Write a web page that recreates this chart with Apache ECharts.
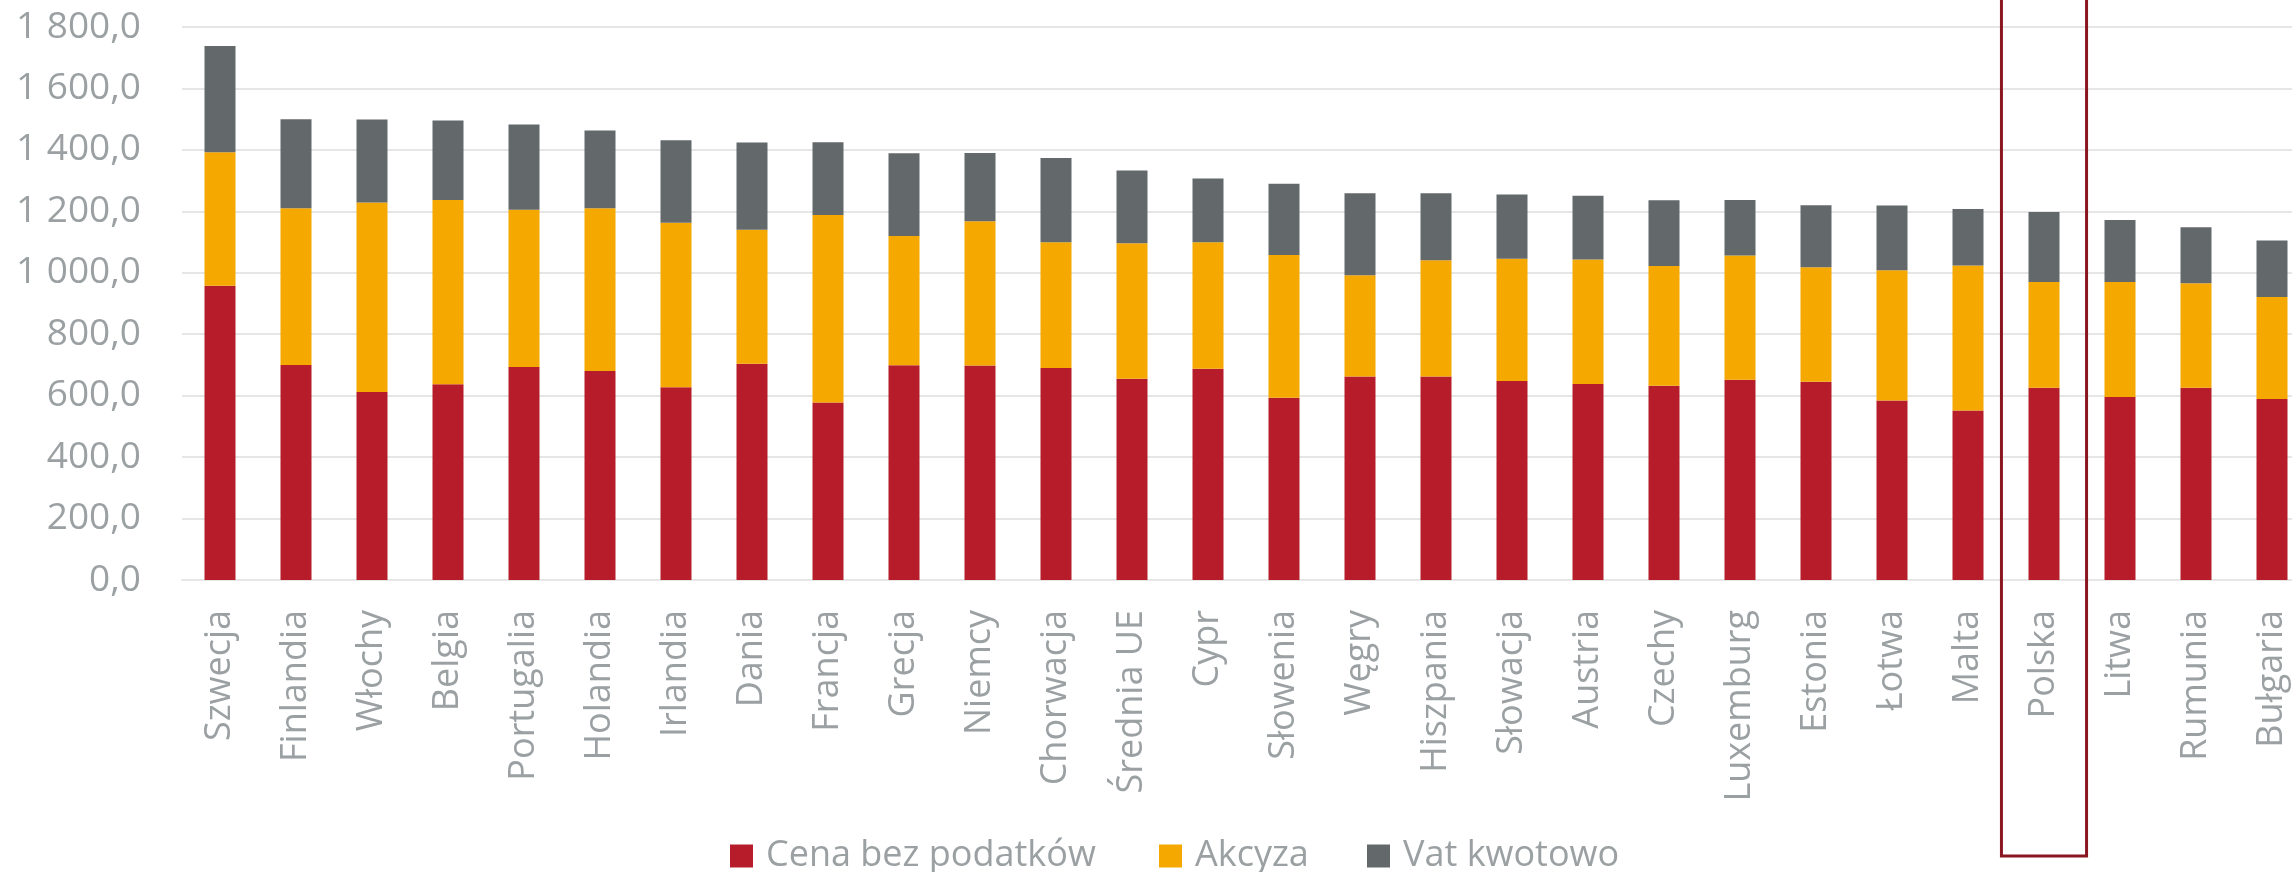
<!DOCTYPE html>
<html lang="pl">
<head>
<meta charset="utf-8">
<title>Cena benzyny w UE – struktura</title>
<script src="https://cdn.jsdelivr.net/npm/echarts@6/dist/echarts.min.js"></script>
<style>
  html, body { margin: 0; padding: 0; background: #ffffff; }
  #chart { width: 2292px; height: 872px; }
</style>
</head>
<body>
<div id="chart"></div>
<script>
// Countries, ordered by total price
const categories = [
  'Szwecja', 'Finlandia', 'Włochy', 'Belgia', 'Portugalia', 'Holandia', 'Irlandia',
  'Dania', 'Francja', 'Grecja', 'Niemcy', 'Chorwacja', 'Średnia UE', 'Cypr',
  'Słowenia', 'Węgry', 'Hiszpania', 'Słowacja', 'Austria', 'Czechy', 'Luxemburg',
  'Estonia', 'Łotwa', 'Malta', 'Polska', 'Litwa', 'Rumunia', 'Bułgaria'
];

// Price components
const cenaBezPodatkow = [958, 700, 612, 637, 693, 680, 627, 704, 578, 699, 698, 690, 655, 688,
                         593, 662, 662, 648, 638, 632, 652, 645, 584, 552, 626, 596, 626, 589];
const akcyza          = [434, 510, 617, 600, 512, 530, 536, 436, 610, 421, 470, 409, 441, 411,
                         465, 330, 379, 398, 405, 390, 404, 373, 424, 472, 344, 374, 340, 332];
const vatKwotowo      = [346, 290, 270, 259, 278, 253, 268, 284, 237, 269, 222, 275, 237, 208,
                         232, 267, 218, 209, 208, 214, 181, 202, 211, 184, 228, 202, 182, 184];

const seriesNames = ['Cena bez podatków', 'Akcyza', 'Vat kwotowo'];

// Value axis ticks
const yMin = 0;
const yMax = 1800;
const yStep = 200;

// Country framed on the chart
const highlighted = 'Polska';

const FONT = '"Open Sans", "Noto Sans", "DejaVu Sans", sans-serif';
const TEXT_GREY = '#9ba0a3';
const GRID_GREY = '#e6e6e6';
const COLORS = ['#b71c2b', '#f5a800', '#63686a'];

function formatPl(v) {
  const parts = v.toFixed(1).split('.');
  const intPart = parts[0].replace(/\B(?=(\d{3})+(?!\d))/g, ' ');
  return intPart + ',' + parts[1];
}

const chart = echarts.init(document.getElementById('chart'), null, { renderer: 'canvas' });

const data = [cenaBezPodatkow, akcyza, vatKwotowo];

chart.setOption({
  animation: false,
  backgroundColor: '#ffffff',
  textStyle: { fontFamily: FONT },
  // the plot runs past the right edge of the canvas; the last bar is cut off
  grid: {
    left: 182, top: 27, width: 2128, height: 553,
    containLabel: false, outerBoundsMode: 'none'
  },
  legend: {
    left: 725,
    top: 833,
    itemWidth: 23,
    itemHeight: 23,
    itemGap: 20,
    icon: 'rect',
    textStyle: {
      fontFamily: FONT, fontSize: 36, color: TEXT_GREY,
      lineHeight: 36, padding: [0, 0, 0, 8]
    },
    data: [
      { name: seriesNames[0], textStyle: { width: 373 } },
      { name: seriesNames[1], textStyle: { width: 152 } },
      { name: seriesNames[2], textStyle: { width: 240 } }
    ]
  },
  xAxis: {
    type: 'category',
    data: categories,
    axisTick: { show: false },
    axisLine: { show: true, lineStyle: { color: GRID_GREY, width: 2 } },
    axisLabel: {
      interval: 0,
      rotate: 90,
      margin: 30,
      fontFamily: FONT,
      fontSize: 36,
      color: TEXT_GREY
    }
  },
  yAxis: {
    type: 'value',
    min: yMin,
    max: yMax,
    interval: yStep,
    axisLine: { show: false },
    axisTick: { show: false },
    splitLine: { lineStyle: { color: GRID_GREY, width: 2 } },
    axisLabel: {
      margin: 41,
      fontFamily: FONT,
      fontSize: 37,
      color: TEXT_GREY,
      formatter: formatPl
    }
  },
  series: seriesNames.map((name, i) => ({
    name: name,
    type: 'bar',
    stack: 'total',
    barWidth: 31,
    itemStyle: { color: COLORS[i] },
    data: data[i]
  }))
});

// Frame around the highlighted country, placed from the category axis scale
(function drawFrame() {
  const idx = categories.indexOf(highlighted);
  const cx = chart.convertToPixel({ xAxisIndex: 0 }, highlighted);
  const prev = chart.convertToPixel({ xAxisIndex: 0 }, categories[idx - 1]);
  const band = cx - prev;
  const halfW = band * 0.56;
  const bottom = chart.getHeight() - 16;
  chart.setOption({
    graphic: [{
      type: 'rect',
      z: 100,
      shape: { x: cx - halfW, y: -10, width: halfW * 2, height: bottom + 10 },
      style: { fill: 'none', stroke: '#8a1621', lineWidth: 3 }
    }]
  });
})();
</script>
</body>
</html>
